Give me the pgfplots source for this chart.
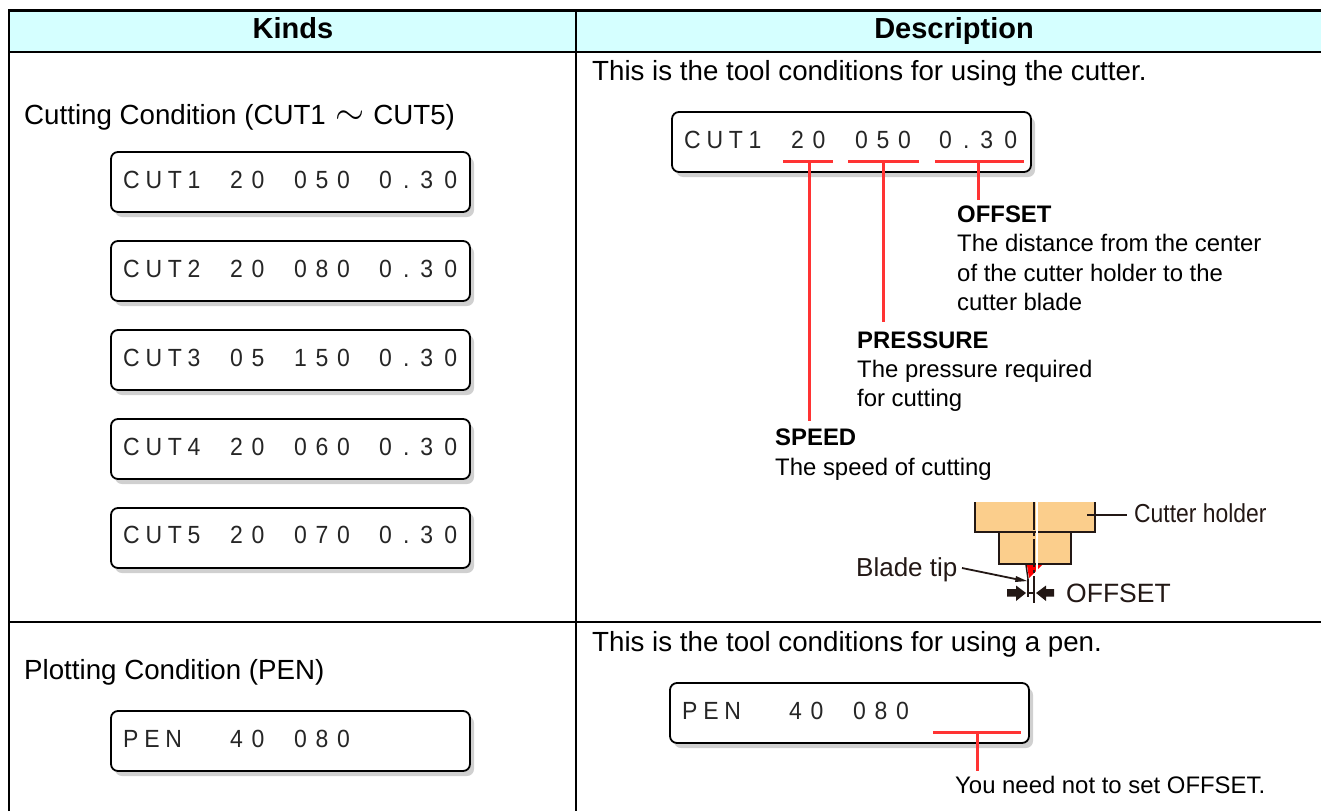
\documentclass[border=0pt]{standalone}
\usepackage{pgfplots}
\pgfplotsset{compat=1.18}
\usepackage{fontspec}
\setmainfont{Liberation Sans}
\newfontfamily\lcdfont[LetterSpace=38]{Liberation Sans}
\newfontfamily\lcddec[LetterSpace=48]{Liberation Sans}
\newfontfamily\lcdcap[LetterSpace=25]{Liberation Sans}
\definecolor{hdr}{HTML}{D5FFFF}
\definecolor{redl}{HTML}{FF3333}
\definecolor{shad}{HTML}{D0D0D0}
\definecolor{hold}{HTML}{FBCE8C}
\definecolor{ink}{HTML}{231815}
\newcommand{\fbig}{\fontsize{27.7}{30}\selectfont}
\newcommand{\fmid}{\fontsize{23.9}{26}\selectfont}
\newcommand{\lab}[4][\fbig]{\node[anchor=base west,inner sep=0pt] at (axis cs:#2,#3) {#1\relax #4};}
\tikzset{lcdtxt/.style={anchor=base west,inner sep=0pt,text=black!85,yscale=1.08,yshift=-1pt}}
\newcommand{\lc}[3]{\node[lcdtxt] at (axis cs:#1,#2) {\lcdfont\fontsize{23}{24}\selectfont #3};}
\newcommand{\lcd}[3]{\node[lcdtxt] at (axis cs:#1,#2) {\lcddec\fontsize{23}{24}\selectfont #3};}
\newcommand{\lcc}[3]{\node[lcdtxt] at (axis cs:#1,#2) {\lcdcap\fontsize{23}{24}\selectfont #3};}
\newcommand{\lcdbox}[4]{%
 \addplot[fill=shad,draw=none,rounded corners=7pt,xshift=4pt,yshift=-5pt] coordinates {(#1,#2) (#3,#2) (#3,#4) (#1,#4)} --cycle;
 \addplot[fill=white,draw=black,line width=1.8pt,rounded corners=7pt] coordinates {(#1,#2) (#3,#2) (#3,#4) (#1,#4)} --cycle;}
\newcommand{\rl}[4]{\addplot[redl,line width=3pt] coordinates {(#1,#2) (#3,#4)};}
\begin{document}
\begin{tikzpicture}
\begin{axis}[hide axis,scale only axis,width=1321pt,height=811pt,
  xmin=0,xmax=1321,ymin=0,ymax=811,y dir=reverse,clip=true]
\addplot[fill=white,draw=none] coordinates {(0,0) (1321,0) (1321,811) (0,811)} --cycle;
% header
\addplot[fill=hdr,draw=none] coordinates {(8,10) (1321,10) (1321,52) (8,52)} --cycle;
\addplot[black,line width=2.8pt] coordinates {(9,811) (9,10.5) (1321,10.5)};
\addplot[black,line width=2.2pt] coordinates {(8,52) (1321,52)};
\addplot[black,line width=2pt] coordinates {(8,622) (1321,622)};
\addplot[black,line width=1.6pt] coordinates {(576,10) (576,811)};
\node[anchor=base,inner sep=0pt] at (axis cs:293,38) {\fontsize{29}{30}\selectfont\bfseries Kinds};
\node[anchor=base,inner sep=0pt] at (axis cs:954,38) {\fontsize{29}{30}\selectfont\bfseries Description};
% left
\lab{24}{124}{Cutting Condition (CUT1\hspace{2pt} \scalebox{1.5}{$\sim$}\hspace{1pt} CUT5)}
\lcdbox{111}{152}{470}{212}
\lcc{123}{187}{CUT1}\lc{230}{187}{20}\lc{294}{187}{050}\lcd{379}{187}{0.30}
\lcdbox{111}{241}{470}{301}
\lcc{123}{276}{CUT2}\lc{230}{276}{20}\lc{294}{276}{080}\lcd{379}{276}{0.30}
\lcdbox{111}{330}{470}{390}
\lcc{123}{365}{CUT3}\lc{230}{365}{05}\lc{294}{365}{150}\lcd{379}{365}{0.30}
\lcdbox{111}{419}{470}{479}
\lcc{123}{454}{CUT4}\lc{230}{454}{20}\lc{294}{454}{060}\lcd{379}{454}{0.30}
\lcdbox{111}{508}{470}{568}
\lcc{123}{542}{CUT5}\lc{230}{542}{20}\lc{294}{542}{070}\lcd{379}{542}{0.30}
\lab{24}{679}{Plotting Condition (PEN)}
\lcdbox{111}{711}{470}{771}
\lcc{123}{746}{PEN}\lc{230}{746}{40}\lc{294}{746}{080}
% right
\lab{592}{80}{This is the tool conditions for using the cutter.}
\lcdbox{672}{112}{1031}{172}
\lcc{684}{147}{CUT1}\lc{791}{147}{20}\lc{855}{147}{050}\lcd{939}{147}{0.30}
\rl{783}{161}{833}{161}\rl{848}{161}{919}{161}\rl{935}{161}{1024}{161}
\rl{809}{161}{809}{421}\rl{883}{161}{883}{322}\rl{978}{161}{978}{200}
\lab[\fmid]{957}{222}{\bfseries OFFSET}
\lab[\fmid]{957}{251}{The distance from the center}
\lab[\fmid]{957}{281}{of the cutter holder to the}
\lab[\fmid]{957}{310}{cutter blade}
\lab[\fmid]{857}{348}{\bfseries PRESSURE}
\lab[\fmid]{857}{377}{The pressure required}
\lab[\fmid]{857}{406}{for cutting}
\lab[\fmid]{775}{445}{\bfseries SPEED}
\lab[\fmid]{775}{475}{The speed of cutting}
% cutter diagram
\addplot[fill=hold,draw=none] coordinates {(975,502) (1095,502) (1095,532) (1071,532) (1071,564) (999,564) (999,532) (975,532)} --cycle;
\addplot[ink,line width=1.4pt] coordinates {(975,502) (975,532) (999,532) (999,564) (1071,564) (1071,532) (1095,532) (1095,502)};
\addplot[ink,line width=1.4pt] coordinates {(999,532) (1071,532)};
\addplot[fill=red,draw=none] coordinates {(1027,565) (1042,565) (1029,578)} --cycle;
\addplot[ink,line width=1.4pt] coordinates {(1026,565) (1028,579)};
\addplot[white,line width=1.6pt] coordinates {(1037,502) (1037,572)};
\addplot[ink,line width=1.2pt,dash pattern=on 28pt off 3pt on 3pt off 3pt] coordinates {(1034,502) (1034,603)};
\addplot[ink,line width=1.4pt] coordinates {(1028,579) (1028,597)};
\addplot[ink,line width=1.2pt] coordinates {(1028,593) (1034,593)};
\addplot[fill=ink,draw=none] coordinates {(1007,589) (1016,589) (1016,585.5) (1026,593) (1016,601) (1016,596.5) (1007,596.5)} --cycle;
\addplot[fill=ink,draw=none] coordinates {(1054,589) (1046,589) (1046,585.5) (1036,593) (1046,601) (1046,596.5) (1054,596.5)} --cycle;
\addplot[ink,line width=1.8pt] coordinates {(962,568) (1018,579.5)};
\addplot[fill=ink,draw=none] coordinates {(1016,576) (1027,581) (1015,582)} --cycle;
\addplot[ink,line width=1.8pt] coordinates {(1087,515) (1127,515)};
\node[anchor=base west,inner sep=0pt,xscale=0.88,text=ink] at (axis cs:1134,522) {\fontsize{26}{28}\selectfont Cutter holder};
\node[anchor=base west,inner sep=0pt,text=ink] at (axis cs:856,576) {\fontsize{26}{28}\selectfont Blade tip};
\node[anchor=base west,inner sep=0pt,text=ink] at (axis cs:1066,602) {\fontsize{26.5}{28}\selectfont OFFSET};
% pen
\lab{592}{651}{This is the tool conditions for using a pen.}
\lcdbox{670}{683}{1029}{743}
\lcc{682}{718}{PEN}\lc{789}{718}{40}\lc{853}{718}{080}
\rl{933}{732}{1021}{732}\rl{977}{732}{977}{771}
\lab[\fmid]{955}{793}{You need not to set OFFSET.}
\end{axis}
\end{tikzpicture}
\end{document}
